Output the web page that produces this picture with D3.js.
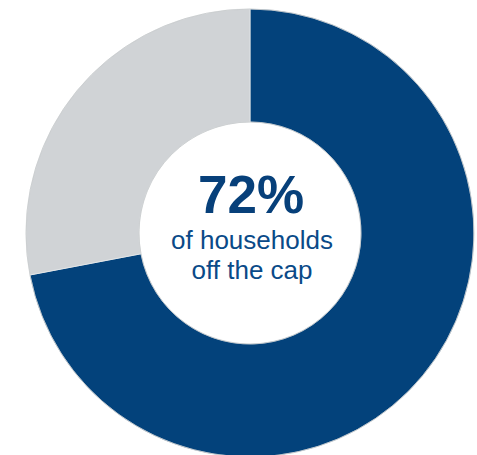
<!DOCTYPE html>
<html>
<head>
<meta charset="utf-8">
<script src="https://cdn.jsdelivr.net/npm/d3@7"></script>
<style>
  html, body { margin: 0; padding: 0; background: #fff; }
  svg { display: block; }
</style>
</head>
<body>
<svg id="chart" width="477" height="455"></svg>
<script>
// Share of households, in percent
const categories = ["Off the cap", "On the cap"];
const values = [72, 28];
const colors = ["#03427B", "#D0D3D6"];
const headline = "72%";
const captionLines = ["of households", "off the cap"];

const svg = d3.select("#chart");
const cx = 250, cy = 233;
const outerR = 224, innerR = 111;

const pie = d3.pie().sort(null).value(d => d.value);
const arc = d3.arc().innerRadius(innerR).outerRadius(outerR);

const data = categories.map((c, i) => ({ name: c, value: values[i], color: colors[i] }));

const g = svg.append("g").attr("transform", `translate(${cx},${cy})`);

g.selectAll("path.slice")
  .data(pie(data))
  .join("path")
  .attr("class", "slice")
  .attr("d", arc)
  .attr("fill", d => d.data.color)
  .attr("stroke", "#e6e8ea")
  .attr("stroke-width", 0.8);

// Soft grey rims on the outer and inner edges
g.append("circle").attr("r", outerR).attr("fill", "none")
  .attr("stroke", "#b9bcbf").attr("stroke-width", 0.8).attr("opacity", 0.7);
g.append("circle").attr("r", innerR).attr("fill", "none")
  .attr("stroke", "#b9bcbf").attr("stroke-width", 0.8).attr("opacity", 0.7);

// Centre label
g.append("text")
  .attr("x", 1).attr("y", -20)
  .attr("text-anchor", "middle")
  .attr("font-family", "Liberation Sans, Arial, sans-serif")
  .attr("font-weight", "bold")
  .attr("font-size", 53)
  .attr("fill", "#07407A")
  .text(headline);

g.selectAll("text.caption")
  .data(captionLines)
  .join("text")
  .attr("class", "caption")
  .attr("x", 2)
  .attr("y", (d, i) => 16 + i * 30)
  .attr("text-anchor", "middle")
  .attr("font-family", "Liberation Sans, Arial, sans-serif")
  .attr("font-size", 26)
  .attr("fill", "#0A4A88")
  .text(d => d);
</script>
</body>
</html>
